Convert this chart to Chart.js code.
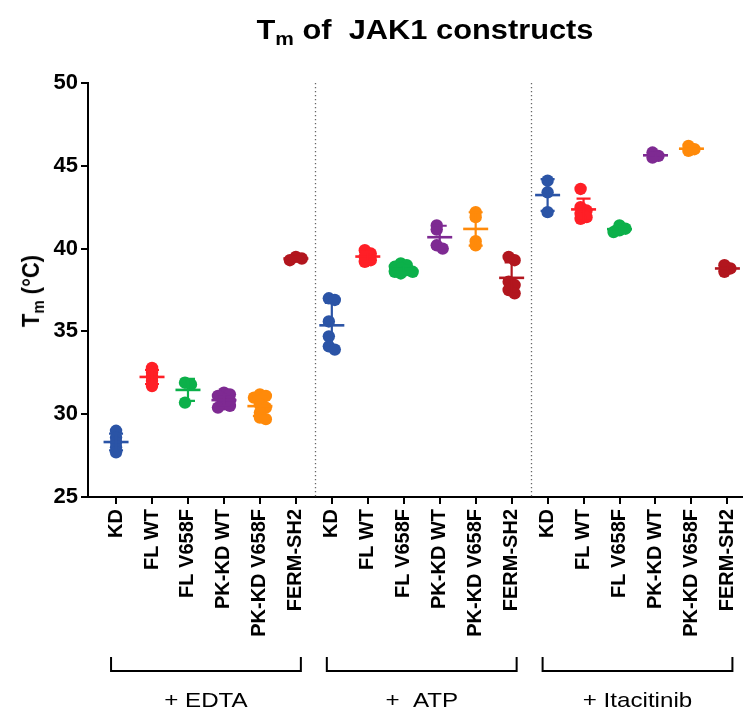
<!DOCTYPE html>
<html><head><meta charset="utf-8">
<script src="https://cdn.jsdelivr.net/npm/chart.js@4/dist/chart.umd.min.js"></script>
<style>
html,body{margin:0;padding:0;background:#fff;}
#wrap{position:relative;width:748px;height:713px;overflow:hidden;}
#c{position:absolute;left:0;top:0;}
#title{position:absolute;left:425px;top:30px;transform:translate(-50%,-50%) scaleX(1.1);font:bold 28px "Liberation Sans",Arial,sans-serif;white-space:nowrap;color:#000;}
#ytitle{position:absolute;left:31px;top:291px;transform:translate(-50%,-50%) rotate(-90deg) scaleY(1.08);font:bold 22px "Liberation Sans",Arial,sans-serif;white-space:nowrap;color:#000;}
.sub{font-size:0.68em;position:relative;top:0.32em;}
</style></head>
<body><div id="wrap">
<canvas id="c" width="748" height="713"></canvas>
<div id="title">T<span class="sub">m</span> of&nbsp; JAK1 constructs</div>
<div id="ytitle">T<span class="sub">m</span> (°C)</div>
</div>
<script>
const categories = ['KD','FL WT','FL V658F','PK-KD WT','PK-KD V658F','FERM-SH2'];
const conditions = ['+ EDTA','+  ATP','+ Itacitinib'];
const yTicks = [25,30,35,40,45,50];
// replicate Tm values (°C) per construct, in order [EDTA, ATP, Itacitinib]
const KD         = [[29.0,28.6,28.3,28.0,27.7],[37.0,36.9,35.6,34.7,34.1,33.9],[44.1,43.4,42.2]];
const FL_WT      = [[32.8,32.5,32.25,32.0,31.7],[39.9,39.7,39.5,39.3,39.2],[43.6,42.5,42.3,42.1,41.9,41.8]];
const FL_V658F   = [[31.9,31.8,30.7],[39.1,39.0,38.9,38.8,38.7,38.6,38.6,38.5],[41.4,41.2,41.1,41.0]];
const PKKD_WT    = [[31.3,31.2,31.1,30.9,30.8,30.6,30.5,30.4],[41.4,41.15,40.2,40.0],[45.8,45.6,45.5]];
const PKKD_V658F = [[31.2,31.1,31.0,30.6,30.4,30.1,29.8,29.7],[42.2,41.9,40.45,40.2],[46.2,46.0,45.9]];
const FERM_SH2   = [[39.5,39.4,39.3],[39.5,39.3,38.0,37.8,37.5,37.3],[39.0,38.8,38.6]];
const series = [KD, FL_WT, FL_V658F, PKKD_WT, PKKD_V658F, FERM_SH2];
const colors = ['#2B54A6','#FF1F26','#0CB04A','#7E2A92','#FF8A0A','#B2161E'];

// beeswarm-style horizontal spreading (layout only)
const PX_PER_DEG = 16.56, PX_PER_CAT = 36.2, STEP = 6, MIN_D = 4;
function swarm(vals){
  const order = vals.map((v,i)=>i).sort((a,b)=>vals[b]-vals[a]);
  const placed = [], off = new Array(vals.length).fill(0);
  for (const i of order){
    const y = vals[i]*PX_PER_DEG;
    for (let k=0;k<30;k++){
      const dx = (k===0?0:(k%2?1:-1)*Math.ceil(k/2))*STEP;
      if (placed.every(p=>Math.hypot(p.x-dx,p.y-y)>=MIN_D)){ off[i]=dx; placed.push({x:dx,y}); break; }
    }
  }
  const mid = (Math.max(...off)+Math.min(...off))/2;
  return off.map(o=>(o-mid)/PX_PER_CAT);
}
const nC = categories.length;
const datasets = series.map((s,c)=>{
  const data = [];
  s.forEach((vals,g)=>{
    const offs = swarm(vals);
    vals.forEach((v,j)=>data.push({x:g*nC+c+offs[j], y:v}));
  });
  return {label:categories[c], data, backgroundColor:colors[c], borderWidth:0, pointRadius:6.2, pointHoverRadius:6.2};
});

const meanSD = {
  id:'meanSD',
  beforeDatasetsDraw(chart){
    const {ctx, chartArea:a} = chart; const xs = chart.scales.x;
    ctx.save(); ctx.strokeStyle='#666'; ctx.lineWidth=1.3; ctx.setLineDash([1.3,2.7]);
    [nC-0.5, 2*nC-0.5].forEach(v=>{ const px=Math.round(xs.getPixelForValue(v))+1.5;
      ctx.beginPath(); ctx.moveTo(px,a.top); ctx.lineTo(px,a.bottom); ctx.stroke(); });
    ctx.restore();
  },
  afterDatasetsDraw(chart){
    const {ctx} = chart; const xs=chart.scales.x, ys=chart.scales.y;
    ctx.save(); ctx.lineCap='butt';
    series.forEach((s,c)=>s.forEach((vals,g)=>{
      const n=vals.length, m=vals.reduce((a,b)=>a+b,0)/n;
      const sd=Math.sqrt(vals.reduce((a,b)=>a+(b-m)*(b-m),0)/(n-1));
      const px=xs.getPixelForValue(g*nC+c);
      const pm=ys.getPixelForValue(m), pt=ys.getPixelForValue(m+sd), pb=ys.getPixelForValue(m-sd);
      ctx.strokeStyle=colors[c];
      ctx.lineWidth=2.6; ctx.beginPath(); ctx.moveTo(px-12.5,pm); ctx.lineTo(px+12.5,pm); ctx.stroke();
      ctx.lineWidth=2.2; ctx.beginPath(); ctx.moveTo(px,pt); ctx.lineTo(px,pb);
      ctx.moveTo(px-7,pt); ctx.lineTo(px+7,pt); ctx.moveTo(px-7,pb); ctx.lineTo(px+7,pb); ctx.stroke();
    }));
    ctx.restore();
  },
  afterDraw(chart){
    const {ctx}=chart; const xs=chart.scales.x;
    ctx.save(); ctx.strokeStyle='#000'; ctx.lineWidth=2; ctx.fillStyle='#000';
    ctx.font='21px "Liberation Sans", Arial, sans-serif'; ctx.textAlign='center'; ctx.textBaseline='middle';
    conditions.forEach((lab,g)=>{
      const x0=xs.getPixelForValue(g*nC)-5, x1=xs.getPixelForValue(g*nC+nC-1)+5;
      ctx.beginPath(); ctx.moveTo(x0,657); ctx.lineTo(x0,671); ctx.lineTo(x1,671); ctx.lineTo(x1,657); ctx.stroke();
      ctx.save(); ctx.translate((x0+x1)/2,701); ctx.scale(1.15,1); ctx.fillText(lab,0,0); ctx.restore();
    });
    ctx.restore();
  }
};

new Chart(document.getElementById('c'), {
  type:'scatter',
  data:{datasets},
  options:{
    responsive:false, animation:false, devicePixelRatio:1,
    layout:{padding:{top:83,left:0,right:0,bottom:0}},
    plugins:{legend:{display:false}, tooltip:{enabled:false}, title:{display:false}},
    scales:{
      x:{type:'linear', min:-0.78, max:17.4,
        afterBuildTicks:s=>{ s.ticks = Array.from({length:3*nC},(_,i)=>({value:i})); },
        afterFit:s=>{ s.height=216; s.paddingLeft=0; s.paddingRight=0; },
        ticks:{autoSkip:false, maxRotation:90, minRotation:90, padding:5, color:'#000',
          font:{family:'"Liberation Sans", Arial, sans-serif', size:20, weight:'bold'},
          callback:v=>categories[Math.round(v)%nC]},
        grid:{drawOnChartArea:false, drawTicks:true, tickLength:7, color:'#000', lineWidth:2},
        border:{display:true, color:'#000', width:2}},
      y:{min:25, max:50,
        afterBuildTicks:s=>{ s.ticks = yTicks.map(v=>({value:v})); },
        afterFit:s=>{ s.width=88; s.paddingTop=0; s.paddingBottom=0; },
        ticks:{padding:3, color:'#000', font:{family:'"Liberation Sans", Arial, sans-serif', size:22, weight:'bold'}},
        grid:{drawOnChartArea:false, drawTicks:true, tickLength:7, color:'#000', lineWidth:2},
        border:{display:true, color:'#000', width:2}}
    }
  },
  plugins:[meanSD]
});
</script>
</body></html>
